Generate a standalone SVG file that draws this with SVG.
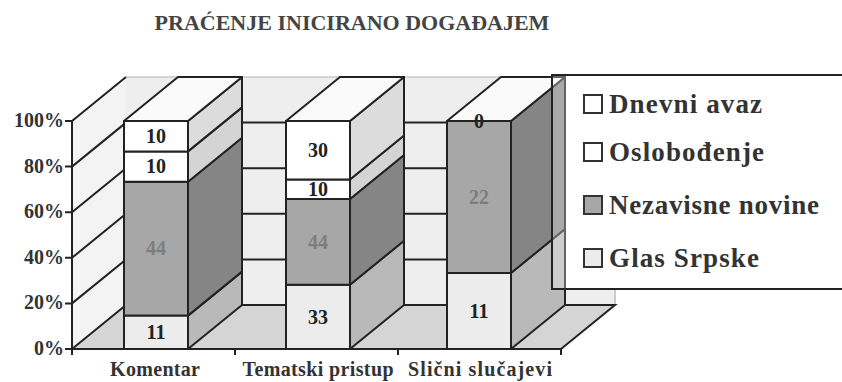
<svg xmlns="http://www.w3.org/2000/svg" width="842" height="382" viewBox="0 0 842 382" font-family="'Liberation Serif', 'DejaVu Serif', 'Times New Roman', serif">
<style>
text{font-family:"Liberation Serif","DejaVu Serif","Times New Roman",serif;font-weight:bold}
.title{font-size:22px;fill:#444}
.ytick{font-size:20px;fill:#333;text-anchor:end}
.cat{font-size:20px;fill:#333;text-anchor:middle}
.val{font-size:20px;fill:#222;text-anchor:middle}
.valg{font-size:20px;fill:#7d7d7d;text-anchor:middle}
.leg{font-size:27px;fill:#333}
.edge{stroke:#222;stroke-width:2;stroke-linejoin:round}
.grid{stroke:#222;stroke-width:2;fill:none}
.da{fill:#ffffff}.das{fill:#dcdcdc}
.os{fill:#ffffff}.oss{fill:#d4d4d4}
.nz{fill:#a7a7a7}.nzs{fill:#858585}
.gs{fill:#ececec}.gss{fill:#b9b9b9}
.top{fill:#fafafa}
</style>
<rect width="842" height="382" fill="#ffffff"/>
<text class="title" x="352" y="30" text-anchor="middle">PRAĆENJE INICIRANO DOGAĐAJEM</text>

<g id="walls">
  <polygon points="72,121 126,77 126,305 72,349" fill="#f3f3f3"/>
  <rect x="126" y="77" width="489" height="228" fill="#eeeeee"/>
  <polygon points="72,349 126,305 615,305 561,349" fill="#d5d5d5"/>
  <line x1="126" y1="77" x2="615" y2="77" stroke="#c8c8c8" stroke-width="1.5"/>
  <line x1="615" y1="77" x2="615" y2="305" stroke="#bbbbbb" stroke-width="1.5"/>
</g>

<g id="gridlines">
  <path class="grid" d="M72,121 L126,77 M72,166.6 L126,122.6 H615 M72,212.2 L126,168.2 H615 M72,257.8 L126,213.8 H615 M72,303.4 L126,259.4 H615 M72,349 L126,305 H615 L561,349"/>
</g>

<g id="axes">
  <path class="grid" d="M72,121 V349 H561 M65,121 H72 M65,166.6 H72 M65,212.2 H72 M65,257.8 H72 M65,303.4 H72 M65,349 H72 M72,349 V355 M235,349 V355 M398,349 V355 M561,349 V355"/>
  <text class="ytick" x="64" y="127">100%</text>
  <text class="ytick" x="64" y="173">80%</text>
  <text class="ytick" x="64" y="218">60%</text>
  <text class="ytick" x="64" y="264">40%</text>
  <text class="ytick" x="64" y="309">20%</text>
  <text class="ytick" x="64" y="355">0%</text>
  <text class="cat" x="155" y="376" textLength="90" lengthAdjust="spacing">Komentar</text>
  <text class="cat" x="318" y="376" textLength="151" lengthAdjust="spacing">Tematski pristup</text>
  <text class="cat" x="480" y="376" textLength="144" lengthAdjust="spacing">Slični slučajevi</text>
</g>

<g id="bar-komentar">
  <rect class="gs edge" x="124" y="315.6" width="64" height="33.4"/>
  <polygon class="gss edge" points="188,315.6 242,271.6 242,305 188,349"/>
  <rect class="nz edge" x="124" y="181.8" width="64" height="133.8"/>
  <polygon class="nzs edge" points="188,181.8 242,137.8 242,271.6 188,315.6"/>
  <rect class="os edge" x="124" y="151.4" width="64" height="30.4"/>
  <polygon class="oss edge" points="188,151.4 242,107.4 242,137.8 188,181.8"/>
  <rect class="da edge" x="124" y="121" width="64" height="30.4"/>
  <polygon class="das edge" points="188,121 242,77 242,107.4 188,151.4"/>
  <polygon class="top edge" points="124,121 178,77 242,77 188,121"/>
  <text class="val" x="156" y="339">11</text>
  <text class="valg" x="156" y="255">44</text>
  <text class="val" x="156" y="173">10</text>
  <text class="val" x="156" y="143">10</text>
</g>

<g id="bar-tematski">
  <rect class="gs edge" x="286" y="284.7" width="64" height="64.3"/>
  <polygon class="gss edge" points="350,284.7 404,240.7 404,305 350,349"/>
  <rect class="nz edge" x="286" y="199" width="64" height="85.7"/>
  <polygon class="nzs edge" points="350,199 404,155 404,240.7 350,284.7"/>
  <rect class="os edge" x="286" y="179.5" width="64" height="19.5"/>
  <polygon class="oss edge" points="350,179.5 404,135.5 404,155 350,199"/>
  <rect class="da edge" x="286" y="121" width="64" height="58.5"/>
  <polygon class="das edge" points="350,121 404,77 404,135.5 350,179.5"/>
  <polygon class="top edge" points="286,121 340,77 404,77 350,121"/>
  <text class="val" x="318" y="324">33</text>
  <text class="valg" x="318" y="249">44</text>
  <text class="val" x="318" y="196">10</text>
  <text class="val" x="318" y="157">30</text>
</g>

<g id="bar-slicni">
  <rect class="gs edge" x="447" y="273" width="64" height="76"/>
  <polygon class="gss edge" points="511,273 565,229 565,305 511,349"/>
  <rect class="nz edge" x="447" y="121" width="64" height="152"/>
  <polygon class="nzs edge" points="511,121 565,77 565,229 511,273"/>
  <polygon class="top edge" points="447,121 501,77 565,77 511,121" fill="#ececec"/>
  <text class="val" x="479" y="318">11</text>
  <text class="valg" x="479" y="204">22</text>
  <text class="val" x="479" y="128">0</text>
</g>

<g id="legend">
  <rect x="566" y="75" width="290" height="214" fill="#ffffff"/>
  <rect x="552" y="75" width="14" height="214" fill="#ffffff" fill-opacity="0.3"/>
  <path d="M842,75 H552 V289 H842" fill="none" stroke="#222" stroke-width="2"/>
  <rect x="584" y="95" width="18" height="18" fill="#ffffff" stroke="#333" stroke-width="2"/>
  <text class="leg" x="609" y="113" textLength="153" lengthAdjust="spacing">Dnevni avaz</text>
  <rect x="584" y="143" width="18" height="18" fill="#ffffff" stroke="#333" stroke-width="2"/>
  <text class="leg" x="609" y="161" textLength="155" lengthAdjust="spacing">Oslobođenje</text>
  <rect x="584" y="196" width="18" height="18" fill="#a7a7a7" stroke="#333" stroke-width="2"/>
  <text class="leg" x="609" y="214" textLength="210" lengthAdjust="spacing">Nezavisne novine</text>
  <rect x="584" y="249" width="18" height="18" fill="#ececec" stroke="#333" stroke-width="2"/>
  <text class="leg" x="609" y="267" textLength="150" lengthAdjust="spacing">Glas Srpske</text>
</g>
</svg>
